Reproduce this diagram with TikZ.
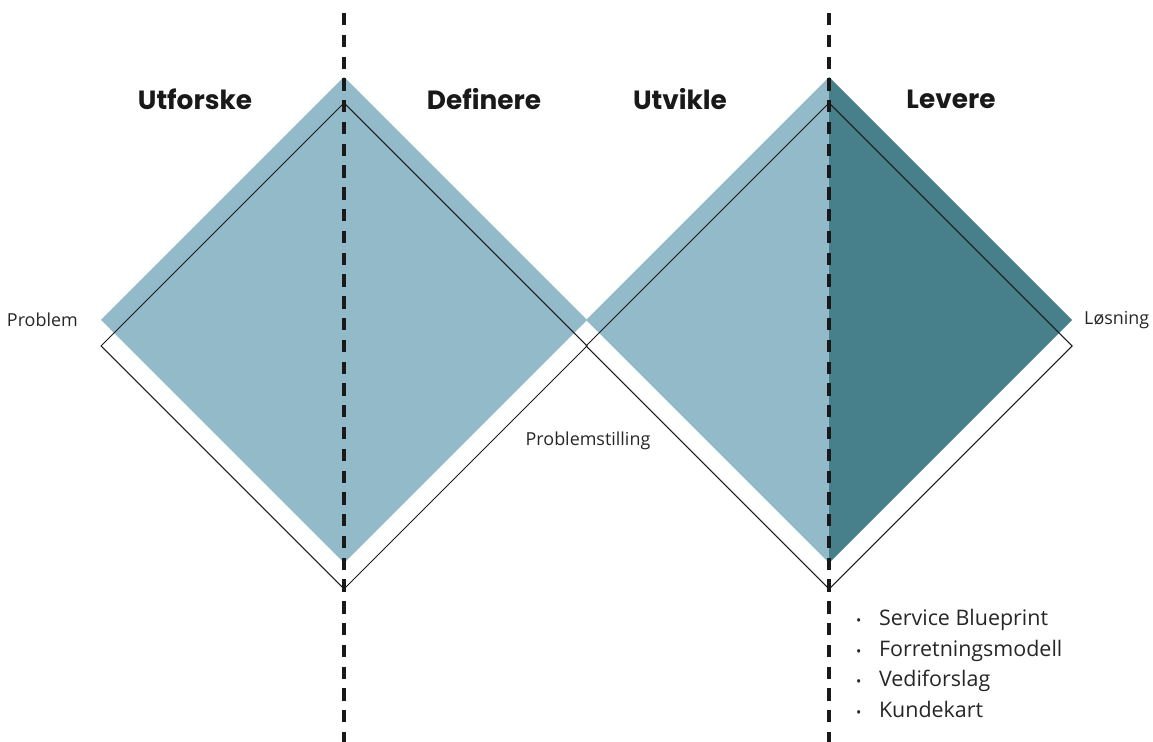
\documentclass[tikz,border=0pt]{standalone}
\usepackage{fontspec}
\setmainfont{Open Sans}
\newfontfamily\titlefont{Poppins}
\usetikzlibrary{positioning}

\definecolor{lightteal}{RGB}{146,186,200}
\definecolor{darkteal}{RGB}{71,128,139}

\begin{document}
\begin{tikzpicture}[x=0.02cm,y=-0.02cm,
    phase/.style={font=\titlefont\bfseries\fontsize{15}{18}\selectfont,text=black!90},
    side text/.style={font=\fontsize{10.2}{12}\selectfont,text=black!85},
    list text/.style={font=\fontsize{12.2}{17.4}\selectfont,text=black!85,align=left},
    divider/.style={line width=2.1pt,dash pattern=on 7pt off 5.4pt,black!90},
    frame/.style={draw=black!90,line width=0.6pt}]
    \useasboundingbox (0,0) rectangle (1153,742);

    % centres of the two diamonds
    \coordinate (d1) at (344,320);
    \coordinate (d2) at (829,320);

    % first diamond, all light
    \fill[lightteal] (d1) ++(0,-243) -- ++(-243,243) -- ++(243,243) -- ++(243,-243) -- cycle;
    % second diamond, left half light and right half dark
    \fill[lightteal] (d2) ++(0,-243) -- ++(-243,243) -- ++(243,243) -- cycle;
    \fill[darkteal] (d2) ++(0,-243) -- ++(243,243) -- ++(-243,243) -- cycle;

    % outlines, set a little lower
    \draw[frame] (d1) ++(0,-217) -- ++(-243,243) -- ++(243,243) -- ++(243,-243) -- cycle;
    \draw[frame] (d2) ++(0,-217) -- ++(-243,243) -- ++(243,243) -- ++(243,-243) -- cycle;

    % dashed dividers
    \coordinate (t1) at (344,13);
    \coordinate (b1) at (344,742);
    \coordinate (t2) at (829,13);
    \coordinate (b2) at (829,742);
    \draw[divider] (t1) -- (b1);
    \draw[divider] (t2) -- (b2);

    % phase names
    \node[phase] (1) at (195,99) {Utforske};
    \node[phase] (2) at (484,99) {Definere};
    \node[phase] (3) at (680,99) {Utvikle};
    \node[phase] (4) at (951,99) {Levere};

    \node[side text,anchor=east] (5) at (84,320) {Problem};
    \node[side text,anchor=west] (6) at (1078,320) {Løsning};
    \node[side text] (7) at (588,441) {Problemstilling};

    \node[list text,anchor=north west] (8) at (850,603)
        {{\footnotesize•}\hspace{10pt}Service Blueprint\\
         {\footnotesize•}\hspace{10pt}Forretningsmodell\\
         {\footnotesize•}\hspace{10pt}Vediforslag\\
         {\footnotesize•}\hspace{10pt}Kundekart};
\end{tikzpicture}
\end{document}
